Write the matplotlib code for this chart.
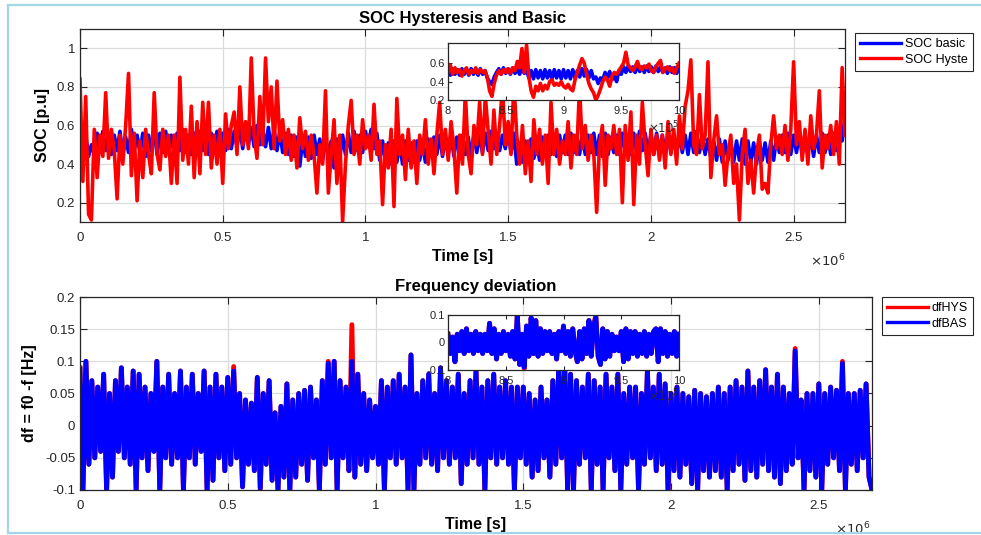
import numpy as np
import matplotlib

matplotlib.use("Agg")
import matplotlib.pyplot as plt
from matplotlib.lines import Line2D
from matplotlib.ticker import FuncFormatter

plt.rcParams["font.family"] = ["Liberation Sans", "DejaVu Sans"]

# time span of the simulation [s] and the zoomed window shown in the insets
t_end = 2.68e6
zoom_start, zoom_end = 8e5, 1e6

# SOC [p.u], one sample every 1e4 s
soc_basic = [
    0.52, 0.42, 0.55, 0.44, 0.50, 0.45, 0.56, 0.46, 0.57, 0.47,
    0.56, 0.45, 0.55, 0.47, 0.57, 0.45, 0.54, 0.46, 0.58, 0.47,
    0.55, 0.46, 0.56, 0.44, 0.55, 0.47, 0.57, 0.45, 0.56, 0.46,
    0.57, 0.46, 0.55, 0.45, 0.56, 0.47, 0.58, 0.46, 0.55, 0.45,
    0.56, 0.46, 0.57, 0.47, 0.55, 0.45, 0.56, 0.46, 0.57, 0.48,
    0.56, 0.47, 0.58, 0.48, 0.57, 0.49, 0.59, 0.48, 0.58, 0.50,
    0.59, 0.49, 0.60, 0.50, 0.58, 0.49, 0.59, 0.48, 0.58, 0.47,
    0.57, 0.46, 0.56, 0.45, 0.55, 0.44, 0.54, 0.39, 0.53, 0.44,
    0.54, 0.43, 0.55, 0.45, 0.53, 0.42, 0.54, 0.44, 0.52, 0.38,
    0.53, 0.43, 0.55, 0.45, 0.56, 0.46, 0.57, 0.47, 0.55, 0.46,
    0.57, 0.49, 0.58, 0.48, 0.56, 0.42, 0.52, 0.41, 0.51, 0.40,
    0.52, 0.41, 0.51, 0.40, 0.52, 0.42, 0.51, 0.41, 0.52, 0.42,
    0.51, 0.41, 0.53, 0.44, 0.54, 0.45, 0.55, 0.44, 0.54, 0.45,
    0.55, 0.44, 0.54, 0.45, 0.55, 0.45, 0.54, 0.44, 0.55, 0.46,
    0.55, 0.46, 0.56, 0.47, 0.57, 0.48, 0.56, 0.47, 0.55, 0.48,
    0.57, 0.46, 0.56, 0.40, 0.51, 0.41, 0.52, 0.42, 0.53, 0.43,
    0.52, 0.42, 0.54, 0.45, 0.55, 0.45, 0.54, 0.44, 0.55, 0.46,
    0.55, 0.45, 0.56, 0.46, 0.55, 0.45, 0.56, 0.45, 0.55, 0.46,
    0.56, 0.45, 0.55, 0.44, 0.56, 0.45, 0.54, 0.46, 0.55, 0.45,
    0.56, 0.46, 0.55, 0.45, 0.56, 0.46, 0.57, 0.47, 0.56, 0.46,
    0.55, 0.45, 0.56, 0.46, 0.55, 0.45, 0.56, 0.46, 0.55, 0.45,
    0.56, 0.46, 0.55, 0.45, 0.56, 0.46, 0.57, 0.46, 0.55, 0.45,
    0.53, 0.43, 0.52, 0.42, 0.53, 0.41, 0.52, 0.42, 0.51, 0.41,
    0.52, 0.42, 0.53, 0.40, 0.52, 0.41, 0.51, 0.40, 0.52, 0.42,
    0.51, 0.41, 0.52, 0.42, 0.54, 0.46, 0.55, 0.46, 0.56, 0.45,
    0.55, 0.46, 0.56, 0.45, 0.55, 0.46, 0.54, 0.44, 0.55, 0.46,
    0.56, 0.46, 0.55, 0.45, 0.56, 0.47, 0.58, 0.52, 0.65,
]
soc_hyst = [
    0.84, 0.31, 0.75, 0.14, 0.11, 0.58, 0.33, 0.55, 0.44, 0.77,
    0.43, 0.58, 0.47, 0.22, 0.55, 0.40, 0.60, 0.87, 0.34, 0.56,
    0.21, 0.52, 0.33, 0.58, 0.45, 0.35, 0.77, 0.45, 0.37, 0.58,
    0.44, 0.55, 0.30, 0.55, 0.30, 0.85, 0.42, 0.58, 0.40, 0.70,
    0.33, 0.62, 0.35, 0.72, 0.45, 0.72, 0.38, 0.55, 0.40, 0.58,
    0.30, 0.66, 0.48, 0.60, 0.67, 0.45, 0.80, 0.50, 0.62, 0.48,
    0.95, 0.55, 0.43, 0.75, 0.50, 0.95, 0.62, 0.80, 0.48, 0.83,
    0.52, 0.63, 0.45, 0.58, 0.42, 0.55, 0.38, 0.64, 0.48, 0.57,
    0.42, 0.55, 0.45, 0.25, 0.50, 0.40, 0.78, 0.25, 0.45, 0.63,
    0.30, 0.55, 0.10, 0.40, 0.60, 0.73, 0.45, 0.55, 0.40, 0.63,
    0.48, 0.55, 0.42, 0.71, 0.45, 0.52, 0.19, 0.50, 0.38, 0.58,
    0.18, 0.74, 0.45, 0.55, 0.32, 0.58, 0.38, 0.52, 0.30, 0.55,
    0.45, 0.63, 0.40, 0.53, 0.35, 0.55, 0.72, 0.45, 0.58, 0.42,
    0.62, 0.48, 0.25, 0.55, 0.40, 0.77, 0.45, 0.35, 0.60, 0.50,
    0.72, 0.45, 0.75, 0.57, 0.40, 0.68, 0.45, 0.60, 0.80, 0.50,
    0.62, 0.45, 0.82, 0.55, 0.40, 0.60, 0.35, 0.52, 0.31, 0.63,
    0.45, 0.58, 0.40, 0.55, 0.30, 0.72, 0.45, 0.58, 0.40, 0.52,
    0.45, 0.62, 0.38, 0.55, 0.45, 0.80, 0.48, 0.60, 0.42, 0.55,
    0.45, 0.15, 0.50, 0.60, 0.29, 0.55, 0.48, 0.60, 0.45, 0.58,
    0.20, 0.60, 0.42, 0.67, 0.19, 0.55, 0.40, 0.72, 0.50, 0.34,
    0.58, 0.45, 0.55, 0.42, 0.55, 0.38, 0.62, 0.45, 0.58, 0.40,
    0.65, 0.48, 0.70, 0.78, 0.94, 0.50, 0.45, 0.76, 0.48, 0.55,
    0.93, 0.33, 0.52, 0.65, 0.45, 0.50, 0.29, 0.45, 0.55, 0.30,
    0.40, 0.11, 0.45, 0.58, 0.30, 0.42, 0.25, 0.45, 0.55, 0.27,
    0.30, 0.25, 0.50, 0.65, 0.48, 0.55, 0.45, 0.60, 0.42, 0.58,
    0.93, 0.50, 0.62, 0.42, 0.58, 0.40, 0.65, 0.48, 0.55, 0.78,
    0.38, 0.55, 0.48, 0.60, 0.45, 0.62, 0.40, 0.90, 0.55,
]

# SOC in the zoom window, one sample every 2e3 s
soc_basic_zoom = [
    0.53, 0.47, 0.54, 0.48, 0.53, 0.47, 0.54, 0.48, 0.53, 0.47,
    0.54, 0.48, 0.53, 0.47, 0.54, 0.48, 0.52, 0.44, 0.40, 0.37,
    0.45, 0.50, 0.54, 0.48, 0.55, 0.49, 0.54, 0.48, 0.55, 0.49,
    0.54, 0.48, 0.55, 0.49, 0.52, 0.44, 0.52, 0.43, 0.53, 0.44,
    0.52, 0.43, 0.53, 0.44, 0.52, 0.43, 0.53, 0.44, 0.52, 0.43,
    0.53, 0.44, 0.52, 0.43, 0.53, 0.44, 0.52, 0.45, 0.54, 0.46,
    0.53, 0.44, 0.52, 0.43, 0.45, 0.38, 0.44, 0.42, 0.50, 0.44,
    0.51, 0.42, 0.46, 0.40, 0.52, 0.48, 0.56, 0.50, 0.57, 0.51,
    0.56, 0.50, 0.57, 0.51, 0.56, 0.50, 0.57, 0.51, 0.56, 0.50,
    0.57, 0.51, 0.56, 0.50, 0.55, 0.49, 0.56, 0.50, 0.55, 0.49,
    0.55,
]
soc_hyst_zoom = [
    0.50, 0.58, 0.48, 0.55, 0.50, 0.53, 0.46, 0.52, 0.55, 0.48,
    0.52, 0.50, 0.55, 0.49, 0.53, 0.50, 0.52, 0.45, 0.30, 0.24,
    0.38, 0.47, 0.52, 0.48, 0.53, 0.50, 0.54, 0.49, 0.55, 0.52,
    0.62, 0.55, 0.76, 0.50, 0.80, 0.45, 0.30, 0.23, 0.35, 0.30,
    0.38, 0.30, 0.36, 0.32, 0.40, 0.42, 0.36, 0.38, 0.36, 0.40,
    0.35, 0.33, 0.37, 0.32, 0.30, 0.42, 0.50, 0.58, 0.65, 0.60,
    0.48, 0.38, 0.32, 0.28, 0.20, 0.25, 0.32, 0.40, 0.45, 0.42,
    0.35, 0.46, 0.50, 0.48, 0.52, 0.56, 0.60, 0.72, 0.58, 0.55,
    0.52, 0.56, 0.62, 0.55, 0.53, 0.57, 0.55, 0.59, 0.52, 0.50,
    0.56, 0.60, 0.63, 0.50, 0.54, 0.56, 0.52, 0.55, 0.49, 0.55,
    0.60,
]

# frequency deviation [Hz], one sample every 1e4 s
df_hys = [
    0.09, -0.10, 0.10, -0.06, 0.07, -0.05, 0.06, -0.04, 0.08, -0.10,
    0.05, -0.08, 0.07, -0.04, 0.09, -0.05, 0.06, -0.06, 0.085, -0.10,
    0.08, -0.05, 0.06, -0.07, 0.05, -0.04, 0.10, -0.10, 0.06, -0.05,
    0.08, -0.06, 0.05, -0.05, 0.085, -0.10, 0.06, -0.05, 0.08, -0.06,
    0.05, -0.04, 0.085, -0.10, 0.06, -0.085, 0.08, -0.05, 0.06, -0.07,
    0.075, -0.06, 0.092, -0.05, 0.05, -0.095, 0.04, -0.06, 0.035, -0.07,
    0.075, -0.10, 0.05, -0.06, 0.07, -0.085, 0.02, -0.10, 0.03, -0.08,
    0.065, -0.10, 0.04, -0.08, 0.05, -0.06, 0.055, -0.085, 0.06, -0.05,
    0.04, -0.10, 0.07, -0.06, 0.10, -0.05, 0.10, -0.10, 0.07, -0.05,
    0.06, -0.07, 0.157, -0.08, 0.08, -0.06, 0.05, -0.07, 0.04, -0.05,
    0.03, -0.06, 0.07, -0.10, 0.06, -0.05, 0.07, -0.06, 0.08, -0.05,
    0.06, -0.10, 0.11, -0.10, 0.05, -0.06, 0.07, -0.05, 0.08, -0.06,
    0.05, -0.07, 0.09, -0.05, 0.07, -0.06, 0.06, -0.05, 0.08, -0.09,
    0.05, -0.06, 0.07, -0.05, 0.085, -0.06, 0.06, -0.10, 0.07, -0.05,
    0.08, -0.06, 0.06, -0.05, 0.07, -0.06, 0.06, -0.10, 0.06, -0.05,
    0.06, -0.06, 0.05, -0.08, 0.04, -0.07, 0.06, -0.05, 0.04, -0.08,
    0.07, -0.06, 0.09, -0.05, 0.10, -0.10, 0.08, -0.10, 0.07, -0.06,
    0.06, -0.05, 0.08, -0.10, 0.07, -0.06, 0.06, -0.10, 0.08, -0.05,
    0.06, -0.07, 0.08, -0.10, 0.05, -0.06, 0.06, -0.05, 0.06, -0.10,
    0.05, -0.06, 0.085, -0.05, 0.06, -0.07, 0.08, -0.06, 0.065, -0.105,
    0.05, -0.07, 0.06, -0.08, 0.05, -0.06, 0.045, -0.09, 0.055, -0.10,
    0.05, -0.07, 0.045, -0.08, 0.05, -0.07, 0.06, -0.08, 0.05, -0.10,
    0.06, -0.07, 0.07, -0.06, 0.06, -0.085, 0.085, -0.07, 0.06, -0.08,
    0.07, -0.06, 0.087, -0.07, 0.06, -0.08, 0.08, -0.09, 0.06, -0.07,
    0.05, -0.06, 0.12, -0.05, 0.04, -0.10, 0.05, -0.07, 0.05, -0.08,
    0.065, -0.10, 0.05, -0.06, 0.06, -0.05, 0.055, -0.07, 0.10, -0.10,
    0.05, -0.06, 0.05, -0.07, 0.055, -0.05, 0.065, -0.08, -0.10,
]
df_bas = [
    0.088, -0.10, 0.10, -0.06, 0.07, -0.05, 0.06, -0.04, 0.08, -0.10,
    0.05, -0.08, 0.07, -0.04, 0.09, -0.05, 0.06, -0.06, 0.085, -0.10,
    0.08, -0.05, 0.06, -0.07, 0.05, -0.04, 0.10, -0.10, 0.06, -0.05,
    0.08, -0.06, 0.05, -0.05, 0.085, -0.10, 0.06, -0.05, 0.08, -0.06,
    0.05, -0.04, 0.085, -0.10, 0.06, -0.085, 0.08, -0.05, 0.06, -0.07,
    0.075, -0.06, 0.085, -0.05, 0.05, -0.095, 0.04, -0.06, 0.035, -0.07,
    0.075, -0.097, 0.05, -0.06, 0.07, -0.085, 0.02, -0.10, 0.03, -0.08,
    0.065, -0.10, 0.04, -0.08, 0.05, -0.06, 0.055, -0.085, 0.06, -0.05,
    0.04, -0.10, 0.07, -0.06, 0.097, -0.05, 0.10, -0.10, 0.07, -0.05,
    0.06, -0.07, 0.10, -0.08, 0.08, -0.06, 0.05, -0.07, 0.04, -0.05,
    0.03, -0.06, 0.07, -0.10, 0.06, -0.05, 0.07, -0.06, 0.08, -0.05,
    0.06, -0.10, 0.11, -0.10, 0.05, -0.06, 0.07, -0.05, 0.08, -0.06,
    0.05, -0.07, 0.09, -0.05, 0.07, -0.06, 0.06, -0.05, 0.08, -0.09,
    0.05, -0.06, 0.07, -0.05, 0.085, -0.06, 0.06, -0.10, 0.07, -0.05,
    0.08, -0.06, 0.06, -0.05, 0.07, -0.06, 0.06, -0.10, 0.06, -0.05,
    0.06, -0.06, 0.05, -0.08, 0.04, -0.07, 0.06, -0.05, 0.04, -0.08,
    0.07, -0.06, 0.09, -0.05, 0.10, -0.10, 0.08, -0.10, 0.07, -0.06,
    0.06, -0.05, 0.08, -0.10, 0.07, -0.06, 0.06, -0.10, 0.08, -0.05,
    0.06, -0.07, 0.08, -0.10, 0.05, -0.06, 0.06, -0.05, 0.06, -0.10,
    0.05, -0.06, 0.085, -0.05, 0.06, -0.07, 0.08, -0.06, 0.065, -0.10,
    0.05, -0.07, 0.06, -0.08, 0.05, -0.06, 0.045, -0.09, 0.055, -0.10,
    0.05, -0.07, 0.045, -0.08, 0.05, -0.07, 0.06, -0.08, 0.05, -0.10,
    0.06, -0.07, 0.07, -0.06, 0.06, -0.085, 0.085, -0.07, 0.06, -0.08,
    0.07, -0.06, 0.087, -0.07, 0.06, -0.08, 0.08, -0.09, 0.06, -0.07,
    0.05, -0.06, 0.116, -0.05, 0.04, -0.10, 0.05, -0.07, 0.05, -0.08,
    0.065, -0.10, 0.05, -0.06, 0.06, -0.05, 0.055, -0.07, 0.097, -0.10,
    0.05, -0.06, 0.05, -0.07, 0.055, -0.05, 0.065, -0.08, -0.10,
]

# frequency deviation in the zoom window, one sample every 2e3 s
df_hys_zoom = [
    0.03, -0.04, 0.02, -0.07, 0.03, -0.03, 0.04, -0.04, 0.05, -0.03,
    0.03, -0.04, 0.04, -0.03, 0.03, -0.04, 0.03, -0.03, 0.07, -0.04,
    0.05, -0.06, 0.03, -0.04, 0.04, -0.03, 0.03, -0.05, 0.04, -0.06,
    0.10, -0.08, 0.03, -0.095, 0.06, -0.05, 0.09, -0.04, 0.08, -0.05,
    0.05, -0.04, 0.04, -0.03, 0.04, -0.04, 0.03, -0.06, 0.04, -0.03,
    0.06, -0.04, 0.04, -0.05, 0.05, -0.03, -0.07, 0.04, -0.06, 0.05,
    -0.04, 0.08, -0.05, 0.06, 0.10, -0.05, -0.08, 0.05, -0.06, 0.04,
    -0.05, 0.03, -0.03, 0.02, -0.03, 0.04, -0.07, 0.05, -0.06, 0.04,
    -0.04, 0.04, -0.05, 0.03, -0.04, 0.04, -0.05, 0.03, -0.04, 0.04,
    0.05, -0.07, 0.05, -0.04, 0.04, -0.05, 0.03, -0.04, 0.04, -0.05,
    0.03,
]
df_bas_zoom = [
    0.03, -0.04, 0.02, -0.07, 0.03, -0.03, 0.04, -0.04, 0.05, -0.03,
    0.03, -0.04, 0.04, -0.03, 0.03, -0.04, 0.03, -0.03, 0.07, -0.04,
    0.05, -0.06, 0.03, -0.04, 0.04, -0.03, 0.03, -0.05, 0.04, -0.06,
    0.097, -0.08, 0.03, -0.09, 0.06, -0.05, 0.09, -0.04, 0.08, -0.05,
    0.05, -0.04, 0.04, -0.03, 0.04, -0.04, 0.03, -0.06, 0.04, -0.03,
    0.06, -0.04, 0.04, -0.05, 0.05, -0.03, -0.07, 0.04, -0.06, 0.05,
    -0.04, 0.08, -0.05, 0.06, 0.09, -0.05, -0.08, 0.05, -0.06, 0.04,
    -0.05, 0.03, -0.03, 0.02, -0.03, 0.04, -0.07, 0.05, -0.06, 0.04,
    -0.04, 0.04, -0.05, 0.03, -0.04, 0.04, -0.05, 0.03, -0.04, 0.04,
    0.05, -0.07, 0.05, -0.04, 0.04, -0.05, 0.03, -0.04, 0.04, -0.05,
    0.03,
]

W, H = 981, 535
INK = "#262626"
GRID = "#dcdcdc"
BLUE, RED = "#0000ff", "#ff0000"
LW_SOC = 2.6
LW_DF = 3.5


def px_box(x0, y0, x1, y1):
    # pixel box (top-left origin) -> figure fraction rect
    return [x0 / W, 1 - y1 / H, (x1 - x0) / W, (y1 - y0) / H]


def style(ax, size=9.5, length=5, xpad=7, ypad=3.5):
    ax.tick_params(direction="in", top=True, right=True, length=length, width=0.8,
                   colors=INK, labelsize=size)
    ax.tick_params(axis="x", pad=xpad)
    ax.tick_params(axis="y", pad=ypad)
    for s in ax.spines.values():
        s.set_color(INK)
        s.set_linewidth(0.9)


def g_fmt(scale=1.0):
    return FuncFormatter(lambda v, p: f"{v / scale:g}")


def side_legend(ax, x, y):
    leg = ax.legend(loc="upper left", bbox_to_anchor=(x / W, 1 - y / H),
                    bbox_transform=fig.transFigure, fontsize=9, fancybox=False,
                    edgecolor=INK, framealpha=1, handlelength=3.3, borderpad=0.4,
                    labelspacing=0.3, handletextpad=0.3, borderaxespad=0)
    leg.get_frame().set_linewidth(0.8)
    for ln in leg.get_lines():
        ln.set_linewidth(2.4)
    return leg


fig = plt.figure(figsize=(W / 100, H / 100), dpi=100)

# light blue frame around the figure
frame_kw = dict(transform=fig.transFigure, color="#a3d6e7", lw=1.6)
fig.add_artist(Line2D([8 / W, 1], [1 - 5 / H] * 2, **frame_kw))
fig.add_artist(Line2D([8 / W, 1], [1 - 533 / H] * 2, **frame_kw))
fig.add_artist(Line2D([8 / W] * 2, [1 - 5 / H, 1 - 533 / H], **frame_kw))

t = np.linspace(0, t_end, len(soc_hyst))
t_b = np.linspace(0, t_end, len(soc_basic))
t_df = np.linspace(0, t_end, len(df_hys))
tz = np.linspace(zoom_start, zoom_end, len(soc_hyst_zoom))
tz_df = np.linspace(zoom_start, zoom_end, len(df_hys_zoom))

# ---- SOC panel ----
ax1 = fig.add_axes(px_box(80, 29, 845, 222))
ax1.plot(t_b, soc_basic, color=BLUE, lw=LW_SOC, label="SOC basic")
ax1.plot(t, soc_hyst, color=RED, lw=LW_SOC, label="SOC Hyste")
ax1.set_xlim(0, t_end)
ax1.set_ylim(0.1, 1.1)
ax1.set_yticks([0.2, 0.4, 0.6, 0.8, 1.0])
ax1.set_xticks(np.arange(0, 2.6e6, 0.5e6))
ax1.xaxis.set_major_formatter(g_fmt(1e6))
ax1.yaxis.set_major_formatter(g_fmt())
ax1.grid(True, color=GRID, lw=0.9)
ax1.set_axisbelow(True)
style(ax1)
ax1.set_title("SOC Hysteresis and Basic", fontsize=12, fontweight="bold", pad=4.5)
ax1.set_xlabel("Time [s]", fontsize=11.5, fontweight="bold")
ax1.xaxis.set_label_coords(0.5, -0.14)
ax1.set_ylabel("SOC [p.u]", fontsize=11.5, fontweight="bold")
ax1.yaxis.set_label_coords(-0.039, 0.5)
ax1.text(1.0, -0.2, r"$\times10^{6}$", transform=ax1.transAxes, ha="right", va="center",
         fontsize=9.5, color=INK)
side_legend(ax1, 855, 33)

# inset of the SOC panel
ins1 = fig.add_axes(px_box(448, 43, 679, 100))
ins1.plot(tz, soc_basic_zoom, color=BLUE, lw=LW_SOC)
ins1.plot(tz, soc_hyst_zoom, color=RED, lw=LW_SOC)
ins1.set_xlim(zoom_start, zoom_end)
ins1.set_ylim(0.2, 0.82)
ins1.set_yticks([0.2, 0.4, 0.6])
ins1.set_xticks(np.arange(8e5, 10.1e5, 0.5e5))
ins1.xaxis.set_major_formatter(g_fmt(1e5))
ins1.yaxis.set_major_formatter(g_fmt())
style(ins1, size=8, length=3, xpad=4, ypad=2)
ins1.patch.set_facecolor("white")
ins1.text(1.0, -0.49, r"$\times10^{5}$", transform=ins1.transAxes, ha="right", va="center",
          fontsize=8.5, color=INK)

# ---- frequency panel ----
ax2 = fig.add_axes(px_box(80, 297, 872, 490))
ax2.plot(t_df, df_hys, color=RED, lw=LW_DF, label="dfHYS")
ax2.plot(t_df, df_bas, color=BLUE, lw=LW_DF, label="dfBAS")
ax2.set_xlim(0, t_end)
ax2.set_ylim(-0.1, 0.2)
ax2.set_yticks([-0.1, -0.05, 0, 0.05, 0.1, 0.15, 0.2])
ax2.set_xticks(np.arange(0, 2.6e6, 0.5e6))
ax2.xaxis.set_major_formatter(g_fmt(1e6))
ax2.yaxis.set_major_formatter(g_fmt())
ax2.grid(True, color=GRID, lw=0.9)
ax2.set_axisbelow(True)
style(ax2)
ax2.set_title("Frequency deviation", fontsize=12, fontweight="bold", pad=4.5)
ax2.set_xlabel("Time [s]", fontsize=11.5, fontweight="bold")
ax2.xaxis.set_label_coords(0.5, -0.14)
ax2.set_ylabel("df = f0 -f [Hz]", fontsize=11.5, fontweight="bold")
ax2.yaxis.set_label_coords(-0.054, 0.5)
ax2.text(0.998, -0.2, r"$\times10^{6}$", transform=ax2.transAxes, ha="right", va="center",
         fontsize=9.5, color=INK)
side_legend(ax2, 882, 297)

# inset of the frequency panel
ins2 = fig.add_axes(px_box(448, 315, 679, 370))
ins2.plot(tz_df, df_hys_zoom, color=RED, lw=LW_DF)
ins2.plot(tz_df, df_bas_zoom, color=BLUE, lw=LW_DF)
ins2.set_xlim(zoom_start, zoom_end)
ins2.set_ylim(-0.1, 0.1)
ins2.set_yticks([-0.1, 0, 0.1])
ins2.set_xticks(np.arange(8e5, 10.1e5, 0.5e5))
ins2.xaxis.set_major_formatter(g_fmt(1e5))
ins2.yaxis.set_major_formatter(g_fmt())
style(ins2, size=8, length=3, xpad=4, ypad=2)
ins2.patch.set_facecolor("white")
ins2.text(1.0, -0.47, r"$\times10^{5}$", transform=ins2.transAxes, ha="right", va="center",
          fontsize=8.5, color=INK)

fig.savefig("out.png", dpi=100)
